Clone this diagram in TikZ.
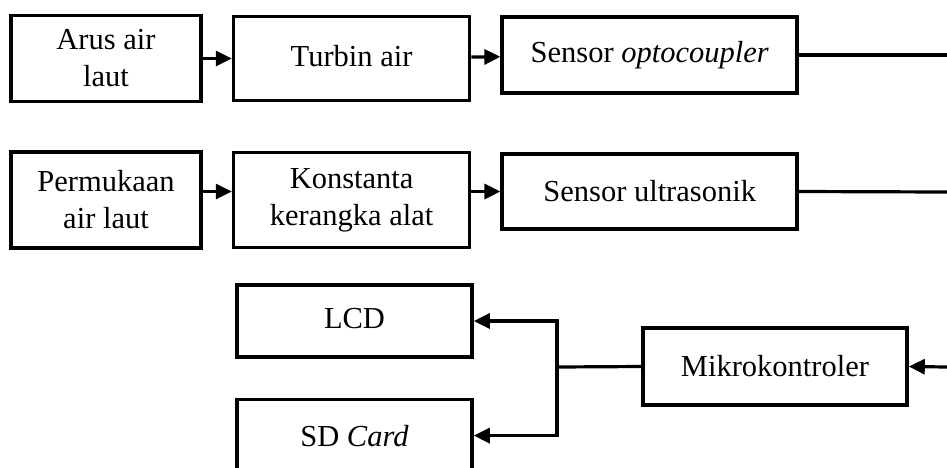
\documentclass[tikz,border=0pt]{standalone}
\usepackage{fontspec}
\setmainfont{Liberation Serif}
\usetikzlibrary{arrows.meta,positioning}

\begin{document}
\begin{tikzpicture}[
    x=1pt, y=1pt,
    node distance=29pt,
    box/.style={draw, line width=3.6pt, align=center, inner sep=0pt, font=\fontsize{30.5}{37}\selectfont},
    link/.style={-{Triangle[length=16pt,width=15pt]}, line width=3.2pt},
    wire/.style={line width=3.2pt}
]
\useasboundingbox (0,0) rectangle (947,-467);
% input chain 1
\node[box, minimum width=190pt, minimum height=86pt] (arus) at (106,-58.5) {Arus air\\laut};
\node[box, right=of arus, minimum width=236pt, minimum height=84pt] (turbin) {\raisebox{6pt}{Turbin air}};
\node[box, right=of turbin, yshift=3.5pt, minimum width=295pt, minimum height=76pt] (opto) {Sensor \textit{optocoupler}};
% input chain 2
\node[box, minimum width=190pt, minimum height=96pt] (permukaan) at (106,-200) {Permukaan\\air laut};
\node[box, right=of permukaan, minimum width=236pt, minimum height=95pt] (konstanta) {Konstanta\\kerangka alat};
\node[box, right=of konstanta, yshift=8.5pt, minimum width=295pt, minimum height=75pt] (ultra) {Sensor ultrasonik};
% outputs
\node[box, minimum width=235pt, minimum height=72pt] (lcd) at (354.5,-321) {\raisebox{6pt}{LCD}};
\node[box, below=39pt of lcd, minimum width=235pt, minimum height=72pt] (sdcard) {SD \textit{Card}};
\node[box, minimum width=264pt, minimum height=77pt] (mikro) at (775,-366.5) {Mikrokontroler};
\coordinate (edge1) at (947,-55);
\coordinate (edge2) at (947,-192);
\coordinate (edge3) at (947,-367);
\coordinate (split) at (557,-367);
\draw[link] (arus) -- (turbin);
\draw[link] (turbin) -- (opto);
\draw[wire] (opto.east) -- (edge1);
\draw[link] (permukaan.east |- ultra) -- (konstanta.west |- ultra);
\draw[link] (konstanta.east |- ultra) -- (ultra.west);
\draw[wire] (ultra.east) -- (edge2);
\draw[link] (edge3) -- (mikro.east);
\draw[wire] (mikro.west) -- (split);
\draw[link] (split) |- (lcd.east);
\draw[link] (split) |- (sdcard.east);
\end{tikzpicture}
\end{document}
